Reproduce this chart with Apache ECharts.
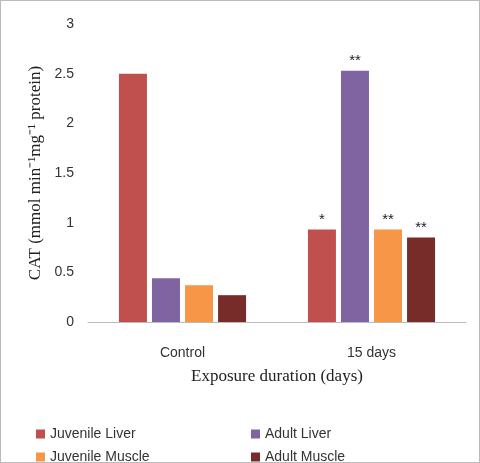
<!DOCTYPE html>
<html><head><meta charset="utf-8">
<script src="https://cdn.jsdelivr.net/npm/echarts@6/dist/echarts.min.js"></script>
<style>html,body{margin:0;padding:0;background:#fff}#c{width:480px;height:463px;box-sizing:border-box;border:1px solid #bbb}</style>
</head><body><div id="c"></div>
<script>
var categories = ['Control', '15 days']
var seriesNames = ['Juvenile Liver', 'Adult Liver', 'Juvenile Muscle', 'Adult Muscle']
var juvLiver = [2.50, 0.93]
var adultLiver = [0.44, 2.53]
var juvMuscle = [0.37, 0.93]
var adultMuscle = [0.27, 0.85]
var marks = [['', '*'], ['', '**'], ['', '**'], ['', '**']]
var colors = ['#c0504d', '#8064a2', '#f79646', '#772c2a']

var chart = echarts.init(document.getElementById('c'))
var values = [juvLiver, adultLiver, juvMuscle, adultMuscle]
var legendPos = [[30, 421], [245, 421], [30, 444], [245, 444]]
var option = {
    backgroundColor: '#fff',
    animation: false,
    grid: { left: 87, right: 13, top: 23, bottom: 140 },
    legend: seriesNames.map(function (n, i) {
        return { data: [n], left: legendPos[i][0], top: legendPos[i][1], itemWidth: 9, itemHeight: 9, icon: 'rect', textStyle: { fontSize: 14, color: '#333' } }
    }),
    xAxis: {
        type: 'category',
        data: categories,
        axisTick: { show: false },
        axisLine: { lineStyle: { color: '#bbb' } },
        axisLabel: { fontSize: 14, color: '#333', margin: 24 },
        name: 'Exposure duration (days)',
        nameLocation: 'middle',
        nameGap: 46,
        nameTextStyle: { fontFamily: 'Liberation Serif', fontSize: 17, color: '#222' }
    },
    yAxis: {
        type: 'value',
        min: 0, max: 3, interval: 0.5,
        splitLine: { show: false },
        axisLine: { show: false },
        axisLabel: { fontSize: 14, color: '#333', margin: 14 },
        name: 'CAT (mmol min\u207B\u00B9mg\u207B\u00B9 protein)',
        nameLocation: 'middle',
        nameGap: 44,
        nameTextStyle: { fontFamily: 'Liberation Serif', fontSize: 17, color: '#222' }
    },
    series: seriesNames.map(function (n, i) {
        return {
            name: n, type: 'bar', data: values[i], barWidth: 28, barGap: '18%',
            itemStyle: { color: colors[i] },
            label: {
                show: true, position: 'top', distance: 2, fontSize: 15, color: '#222',
                formatter: function (p) { return marks[i][p.dataIndex] }
            }
        }
    })
}
chart.setOption(option)
</script></body></html>
